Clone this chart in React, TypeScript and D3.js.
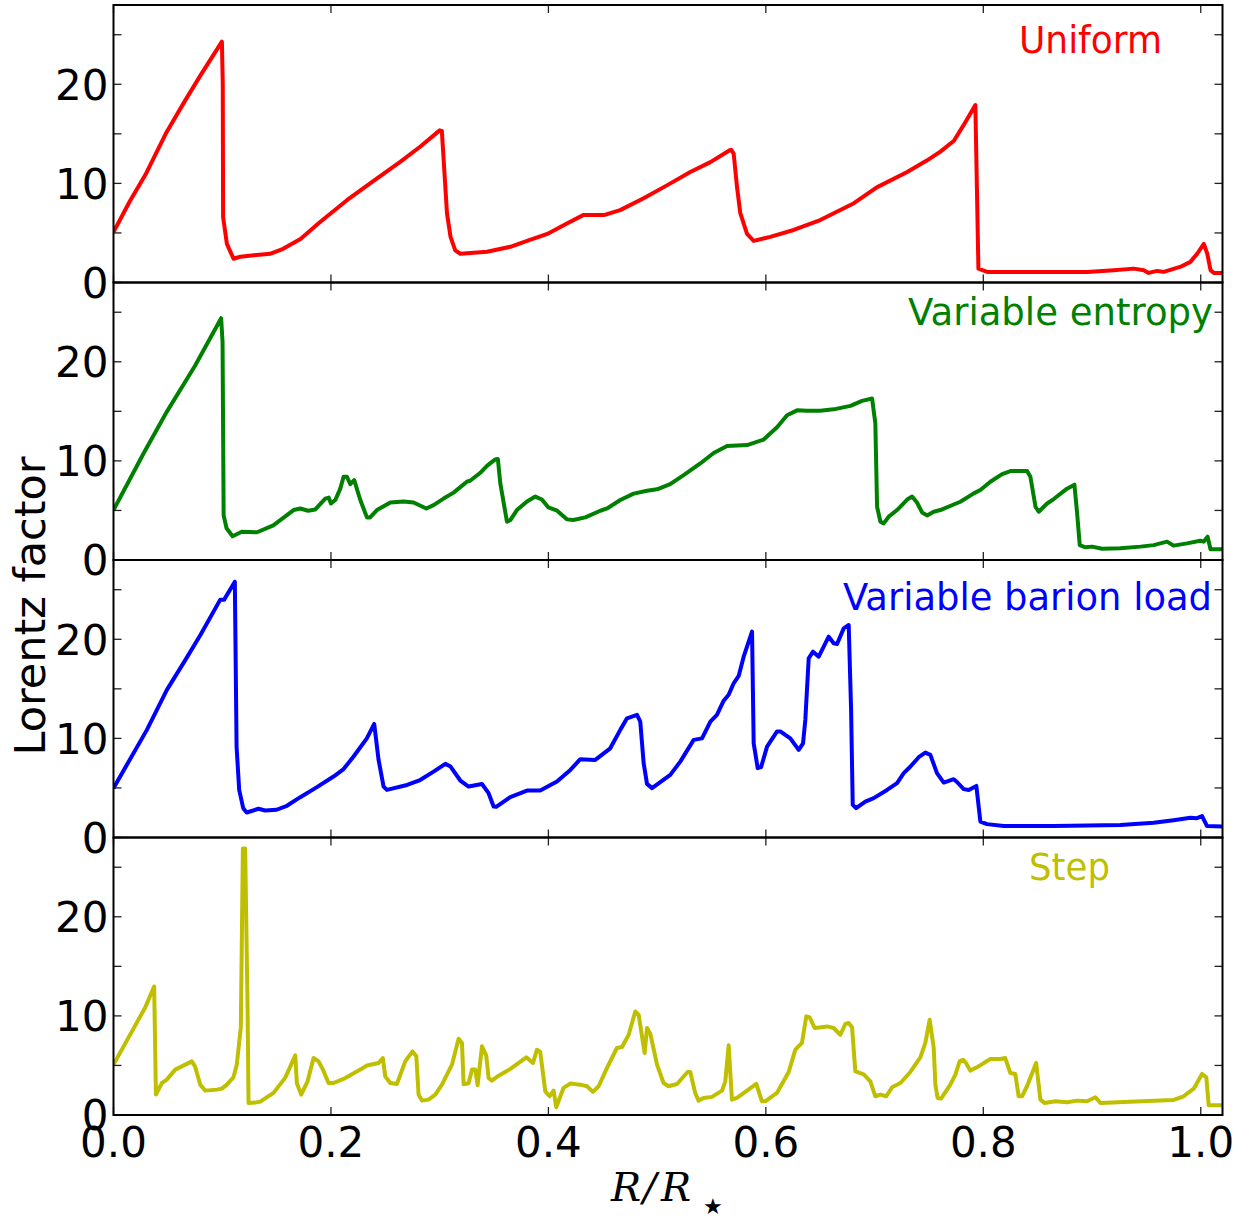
import React from "react";
import * as d3 from "d3";

type Pt = [number, number];

const xTicks = [0, 0.2, 0.4, 0.6, 0.8, 1.0];
const xTickLabels = ["0.0", "0.2", "0.4", "0.6", "0.8", "1.0"];
const yTicks = [0, 5, 10, 15, 20, 25];
const yTickLabels = [0, 10, 20];

const panelNames = ["Uniform", "Variable entropy", "Variable barion load", "Step"];
const panelColors = ["#ff0000", "#008000", "#0000ff", "#bfbf00"];

const uniform: Pt[] = [[0,5.1],[0.015,8.2],[0.03,11.0],[0.048,15.0],[0.065,18.2],[0.08,20.9],[0.0997,24.3],[0.1005,20],[0.1008,6.6],[0.1043,3.9],[0.1104,2.4],[0.1166,2.6],[0.129,2.75],[0.144,2.9],[0.156,3.4],[0.172,4.4],[0.19,6.1],[0.2147,8.3],[0.236,10.0],[0.264,12.2],[0.282,13.7],[0.3,15.35],[0.302,15.3],[0.305,10.0],[0.3067,7.0],[0.31,4.6],[0.3143,3.25],[0.319,2.9],[0.3435,3.1],[0.365,3.6],[0.383,4.3],[0.399,4.9],[0.417,5.95],[0.432,6.8],[0.451,6.8],[0.466,7.3],[0.4876,8.5],[0.509,9.8],[0.5305,11.15],[0.549,12.15],[0.566,13.3],[0.568,13.4],[0.5704,13.0],[0.5735,9.6],[0.5765,7.0],[0.5827,4.9],[0.5888,4.2],[0.604,4.6],[0.6256,5.3],[0.65,6.3],[0.681,8.0],[0.702,9.6],[0.73,11.15],[0.748,12.3],[0.7605,13.2],[0.773,14.3],[0.782,15.9],[0.7927,17.9],[0.7955,1.4],[0.8036,1.07],[0.8955,1.07],[0.92,1.24],[0.9384,1.4],[0.9476,1.24],[0.952,0.97],[0.96,1.17],[0.966,1.07],[0.981,1.57],[0.9905,2.08],[0.9967,2.9],[1.0028,3.9],[1.006,2.9],[1.009,1.24],[1.012,0.97],[1.02,0.97]];

const entropy: Pt[] = [[0,5.04],[0.0276,10.75],[0.049,14.95],[0.075,19.6],[0.099,24.4],[0.1003,22],[0.1013,4.5],[0.104,3.2],[0.1095,2.4],[0.118,2.85],[0.132,2.8],[0.147,3.5],[0.1656,5.04],[0.1718,5.2],[0.179,4.97],[0.1856,5.1],[0.1948,6.2],[0.198,6.3],[0.2,5.7],[0.204,6.05],[0.2086,7.2],[0.2116,8.4],[0.2147,8.4],[0.2178,7.66],[0.2214,8.06],[0.227,6.05],[0.2331,4.3],[0.236,4.3],[0.2423,5.04],[0.2546,5.8],[0.2668,5.9],[0.276,5.8],[0.2877,5.2],[0.2944,5.54],[0.3036,6.2],[0.3128,6.8],[0.325,7.9],[0.328,8.0],[0.3374,8.8],[0.3435,9.5],[0.3511,10.15],[0.3535,10.2],[0.3558,7.7],[0.3619,3.86],[0.365,4.03],[0.371,5.04],[0.3803,5.9],[0.388,6.4],[0.394,6.1],[0.4,5.3],[0.408,4.97],[0.417,4.1],[0.423,4.03],[0.434,4.3],[0.4477,4.97],[0.454,5.2],[0.4661,6.05],[0.4784,6.7],[0.4907,6.99],[0.4999,7.13],[0.512,7.66],[0.5244,8.57],[0.5397,9.74],[0.552,10.8],[0.5643,11.5],[0.5827,11.6],[0.598,12.15],[0.6103,13.4],[0.6195,14.6],[0.6287,15.1],[0.638,15.05],[0.65,15.05],[0.6624,15.2],[0.6778,15.55],[0.6885,16.06],[0.6977,16.3],[0.7007,13.8],[0.7023,5.37],[0.7054,3.86],[0.7084,3.7],[0.713,4.37],[0.7207,5.04],[0.73,6.1],[0.7345,6.4],[0.739,5.8],[0.7437,4.8],[0.7483,4.5],[0.7544,4.87],[0.7605,5.04],[0.7789,5.88],[0.7912,6.72],[0.7973,7.06],[0.8065,7.9],[0.8173,8.67],[0.825,8.97],[0.8403,8.97],[0.8433,8.4],[0.848,5.37],[0.851,4.87],[0.8587,5.7],[0.8648,6.15],[0.877,7.2],[0.8838,7.6],[0.8863,4.7],[0.8887,1.5],[0.894,1.28],[0.9,1.35],[0.9093,1.14],[0.926,1.18],[0.9445,1.35],[0.9567,1.5],[0.969,1.85],[0.975,1.45],[0.9873,1.68],[0.9995,1.95],[1.0026,1.85],[1.0063,2.35],[1.009,1.08],[1.02,1.08]];

const barion: Pt[] = [[0,4.98],[0.0307,10.86],[0.0491,14.9],[0.066,17.9],[0.0798,20.4],[0.0982,24.0],[0.1018,24.0],[0.1116,25.8],[0.1132,9.17],[0.1156,4.8],[0.1193,2.96],[0.1225,2.52],[0.1333,2.9],[0.1395,2.72],[0.15,2.8],[0.1595,3.2],[0.1718,4.07],[0.1871,5.08],[0.2024,6.15],[0.2116,6.9],[0.2208,8.17],[0.233,10.0],[0.2398,11.46],[0.2438,7.83],[0.2484,5.14],[0.2515,4.8],[0.27,5.3],[0.282,5.8],[0.2944,6.65],[0.3052,7.43],[0.31,7.16],[0.319,5.75],[0.3266,5.14],[0.3389,5.4],[0.345,4.47],[0.3496,3.13],[0.352,3.1],[0.3649,4.07],[0.3803,4.74],[0.3925,4.74],[0.4079,5.65],[0.4202,6.82],[0.4293,7.9],[0.4431,7.83],[0.4569,9.0],[0.4661,10.86],[0.4723,12.03],[0.4815,12.37],[0.4845,11.7],[0.4876,7.5],[0.4907,5.41],[0.4953,4.98],[0.5121,6.32],[0.5213,7.66],[0.5336,9.85],[0.5413,10.0],[0.549,11.7],[0.555,12.37],[0.5612,13.8],[0.5658,14.4],[0.5704,15.56],[0.575,16.3],[0.5796,18.25],[0.5873,20.77],[0.5888,9.5],[0.5925,7.0],[0.5956,7.1],[0.6011,9.17],[0.6103,10.7],[0.6133,10.7],[0.6225,10.0],[0.6302,8.84],[0.6342,9.5],[0.6363,11.86],[0.6394,18.08],[0.6434,18.75],[0.6486,18.25],[0.6578,20.26],[0.6624,19.6],[0.6655,19.53],[0.6716,21.1],[0.6762,21.44],[0.6784,12.87],[0.6799,3.3],[0.683,2.96],[0.6915,3.63],[0.6992,3.97],[0.7115,4.8],[0.7207,5.48],[0.7268,6.49],[0.733,7.16],[0.7406,8.1],[0.7467,8.57],[0.7513,8.34],[0.7574,6.49],[0.7636,5.54],[0.7728,5.88],[0.7758,5.6],[0.782,4.88],[0.7866,4.8],[0.7936,5.2],[0.7973,1.61],[0.8034,1.35],[0.8188,1.15],[0.8648,1.15],[0.926,1.25],[0.9567,1.48],[0.975,1.75],[0.9905,1.99],[0.9966,1.95],[1.0012,2.16],[1.0058,1.15],[1.02,1.1]];

const step: Pt[] = [[0,5.08],[0.0292,10.86],[0.0374,12.97],[0.039,2.06],[0.0445,3.23],[0.049,3.57],[0.0568,4.58],[0.072,5.41],[0.075,4.91],[0.0798,3.06],[0.0844,2.46],[0.0951,2.56],[0.0997,2.66],[0.1042,3.06],[0.1103,3.8],[0.1134,5.08],[0.1171,8.84],[0.119,26.9],[0.1211,26.9],[0.1233,10.8],[0.1242,1.22],[0.1304,1.25],[0.135,1.35],[0.1472,2.23],[0.158,3.77],[0.1672,6.02],[0.1686,3.23],[0.1726,2.06],[0.1785,3.4],[0.184,5.75],[0.1886,5.41],[0.1926,4.58],[0.1978,3.23],[0.2024,3.23],[0.2116,3.64],[0.227,4.58],[0.2331,5.0],[0.2438,5.25],[0.2477,5.75],[0.2499,3.9],[0.2545,3.23],[0.2607,3.13],[0.2683,5.41],[0.275,6.42],[0.2785,5.92],[0.2806,2.06],[0.2837,1.45],[0.2898,1.55],[0.296,2.06],[0.3021,3.06],[0.3113,5.08],[0.3174,7.7],[0.3205,7.27],[0.322,3.1],[0.3266,3.2],[0.3297,4.58],[0.3327,4.6],[0.3349,3.0],[0.3389,6.93],[0.3428,6.02],[0.345,3.74],[0.348,3.47],[0.3542,3.97],[0.365,4.65],[0.3797,5.82],[0.3858,5.25],[0.3895,6.59],[0.3925,6.36],[0.3971,2.39],[0.4011,1.89],[0.4048,2.46],[0.4072,0.78],[0.4139,2.73],[0.4201,3.17],[0.4293,3.06],[0.4355,2.9],[0.441,2.33],[0.4462,2.9],[0.4539,4.75],[0.463,6.76],[0.4677,6.86],[0.4738,8.1],[0.4799,10.45],[0.483,10.12],[0.4885,6.26],[0.4907,8.78],[0.4938,8.17],[0.4999,5.08],[0.5059,3.23],[0.5105,2.9],[0.5183,3.13],[0.528,4.34],[0.5305,4.34],[0.535,2.23],[0.5381,1.45],[0.5427,1.72],[0.5505,1.83],[0.5597,2.46],[0.5627,3.4],[0.5658,7.03],[0.5688,1.55],[0.5734,1.72],[0.5912,3.13],[0.5964,1.38],[0.5995,1.38],[0.6102,2.23],[0.621,4.34],[0.6271,6.59],[0.6332,7.27],[0.6372,9.95],[0.6403,9.85],[0.6449,8.78],[0.6495,8.84],[0.6563,8.94],[0.6624,8.78],[0.6685,8.1],[0.6731,9.18],[0.6762,9.28],[0.6793,8.84],[0.6823,4.4],[0.6863,4.24],[0.69,4.1],[0.6961,3.4],[0.7007,1.89],[0.7053,2.06],[0.7108,1.89],[0.7161,2.8],[0.7237,3.23],[0.7329,4.34],[0.7421,5.82],[0.7467,7.27],[0.7507,9.62],[0.7544,6.76],[0.7559,3.06],[0.758,1.72],[0.7611,1.65],[0.7697,3.06],[0.7743,4.07],[0.7782,5.41],[0.7813,5.58],[0.7841,5.25],[0.788,4.48],[0.7941,4.81],[0.8064,5.65],[0.8156,5.65],[0.8202,5.75],[0.8248,4.24],[0.8294,4.14],[0.8325,1.89],[0.8356,1.89],[0.8402,2.9],[0.8486,5.25],[0.8525,1.55],[0.8562,1.22],[0.8663,1.38],[0.877,1.28],[0.8863,1.45],[0.8955,1.38],[0.9031,1.79],[0.9077,1.22],[0.9567,1.45],[0.9751,1.52],[0.9843,1.89],[0.9935,2.66],[1.0012,4.14],[1.0051,3.8],[1.0073,0.98],[1.02,0.98]];

const seriesList = [uniform, entropy, barion, step];

// layout
const W = 1252;
const H = 1218;
const left = 113.5;
const right = 1222.5;
const panelTops = [5, 282.5, 560, 837.5];
const panelH = 277.5;
const labelPos = [
  { x: 1019, y: 53, w: 143 },
  { x: 908, y: 325, w: 305 },
  { x: 843, y: 610, w: 369 },
  { x: 1029, y: 880, w: 81 },
];

const x = d3.scaleLinear().domain([0, 1.02]).range([left, right]);

export default function App() {
  const tickLen = 8;
  const fontSans = "'DejaVu Sans', sans-serif";
  return (
    <svg
      width={W}
      height={H}
      viewBox={`0 0 ${W} ${H}`}
      style={{ position: "absolute", left: 0, top: 0, background: "#fff" }}
    >
      <rect x={0} y={0} width={W} height={H} fill="#fff" />
      <defs>
        {panelTops.map((t, i) => (
          <clipPath id={`clip${i}`} key={i}>
            <rect x={left} y={t} width={right - left} height={panelH} />
          </clipPath>
        ))}
      </defs>
      {panelTops.map((top, i) => {
        const y = d3.scaleLinear().domain([0, 28]).range([top + panelH, top]);
        const line = d3
          .line<Pt>()
          .x((d) => x(d[0]))
          .y((d) => y(d[1]));
        return (
          <g key={i}>
            <path
              d={line(seriesList[i]) || ""}
              fill="none"
              stroke={panelColors[i]}
              strokeWidth={4}
              strokeLinejoin="round"
              clipPath={`url(#clip${i})`}
            />
            {yTicks.map((v) => (
              <g key={v}>
                <line x1={left} x2={left + tickLen} y1={y(v)} y2={y(v)} stroke="#222" strokeWidth={1.3} />
                <line x1={right} x2={right - tickLen} y1={y(v)} y2={y(v)} stroke="#222" strokeWidth={1.3} />
              </g>
            ))}
            {xTicks.map((v) => (
              <g key={v}>
                <line x1={x(v)} x2={x(v)} y1={top} y2={top + tickLen} stroke="#222" strokeWidth={1.3} />
                <line x1={x(v)} x2={x(v)} y1={top + panelH} y2={top + panelH - tickLen} stroke="#222" strokeWidth={1.3} />
              </g>
            ))}
            {yTickLabels.map((v) => (
              <text
                key={v}
                x={left - 5}
                y={y(v) + 15.3}
                textAnchor="end"
                fontFamily={fontSans}
                fontSize={42}
                fill="#000"
              >
                {v}
              </text>
            ))}
            <rect
              x={left}
              y={top}
              width={right - left}
              height={panelH}
              fill="none"
              stroke="#000"
              strokeWidth={2}
            />
            <text
              x={labelPos[i].x}
              y={labelPos[i].y}
              fontFamily={fontSans}
              fontSize={37}
              fill={panelColors[i]}
              textLength={labelPos[i].w}
              lengthAdjust="spacingAndGlyphs"
            >
              {panelNames[i]}
            </text>
          </g>
        );
      })}
      {xTicks.map((v, i) => (
        <text
          key={v}
          x={x(v)}
          y={1157}
          textAnchor="middle"
          fontFamily={fontSans}
          fontSize={42}
          fill="#000"
        >
          {xTickLabels[i]}
        </text>
      ))}
      <text
        transform="translate(45,606) rotate(-90)"
        textAnchor="middle"
        fontFamily={fontSans}
        fontSize={43}
        fill="#000"
      >
        Lorentz factor
      </text>
      <text fontFamily="'DejaVu Serif', serif" fontSize={40} fill="#000">
        <tspan x={611} y={1201} fontStyle="italic">R</tspan>
        <tspan x={643} y={1201} fontStyle="italic">/</tspan>
        <tspan x={661} y={1201} fontStyle="italic">R</tspan>
        <tspan x={703} y={1214} fontFamily="'DejaVu Sans', sans-serif" fontSize={22}>★</tspan>
      </text>
    </svg>
  );
}
